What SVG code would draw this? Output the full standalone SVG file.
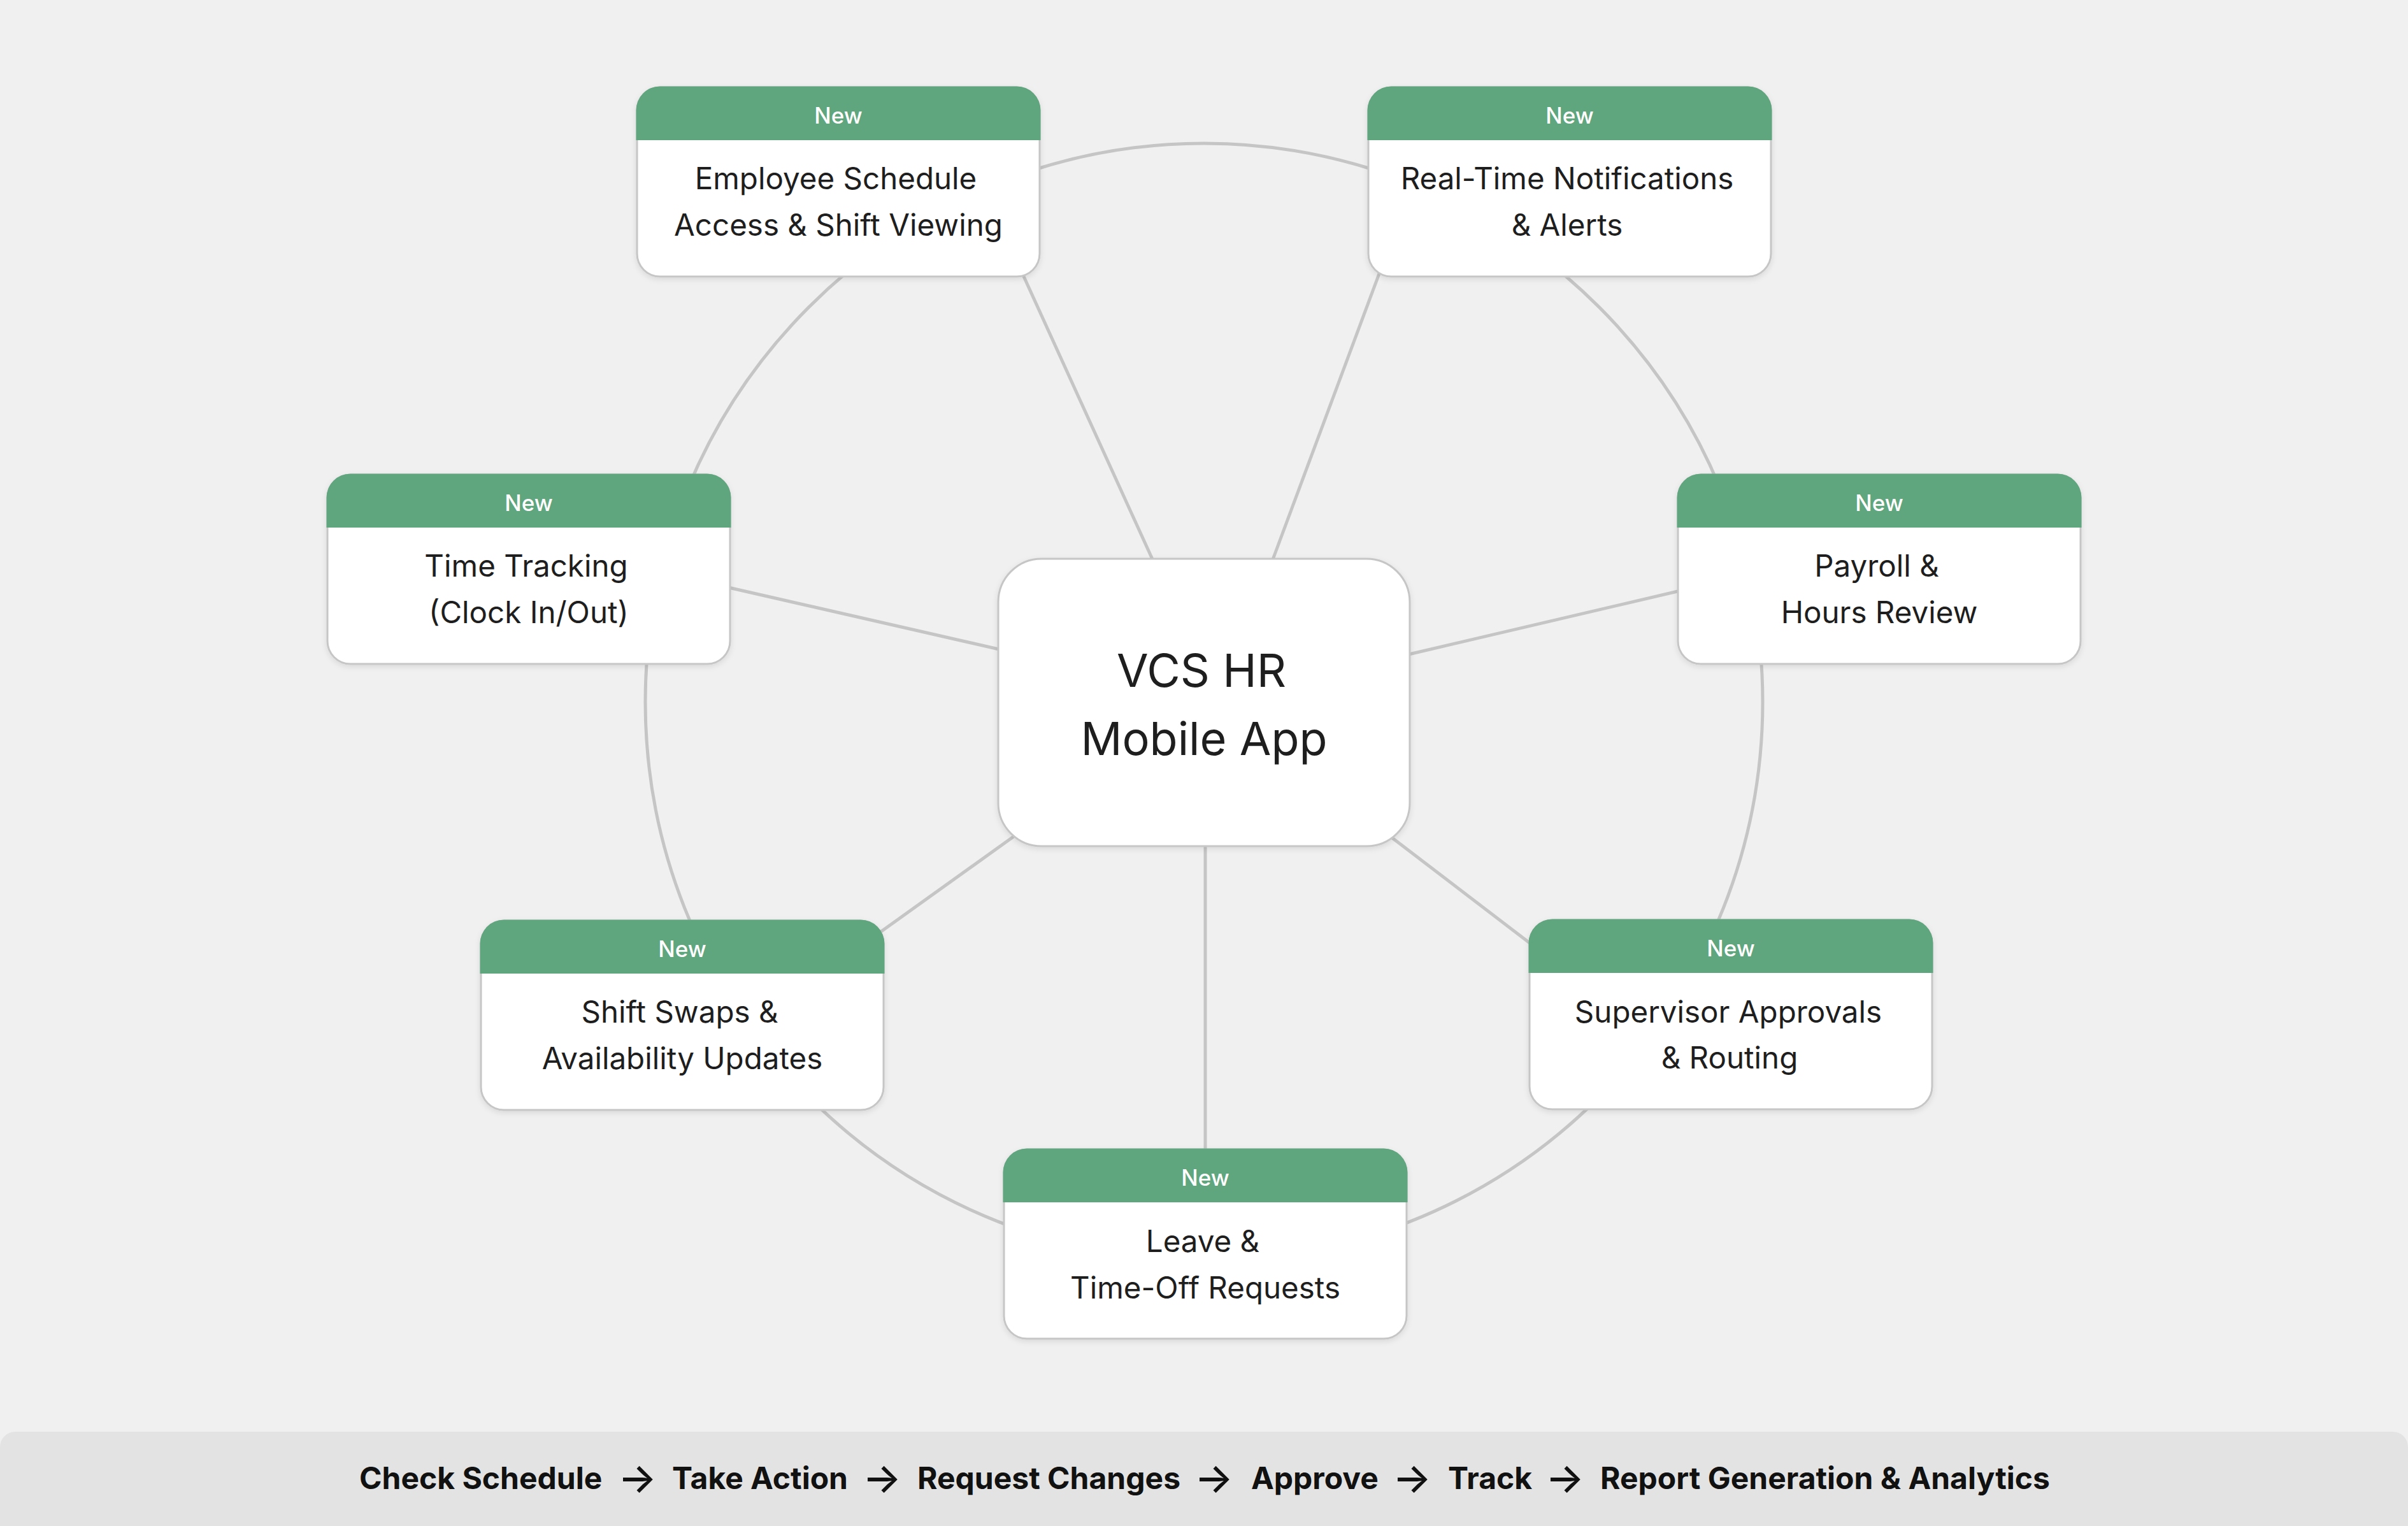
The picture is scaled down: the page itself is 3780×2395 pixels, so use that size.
<svg xmlns="http://www.w3.org/2000/svg" xmlns:xlink="http://www.w3.org/1999/xlink" width="3780" height="2395" viewBox="0 0 3780 2395">
<style>
.bg{fill:#f0f0f0}
.conn line,.conn circle{stroke:#c4c5c4;stroke-width:5;fill:none}
.card{fill:#fff;stroke:#c6c6c6;stroke-width:3}
.hdr{fill:#5fa57e}
.tag{font-family:Inter,"Noto Sans","Liberation Sans",sans-serif;font-size:35px;font-weight:500;fill:#fff;text-anchor:middle}
.lbl{font-family:Inter,"Noto Sans","Liberation Sans",sans-serif;font-size:47.5px;fill:#1e1e1e;text-anchor:middle}
.hub{font-family:Inter,"Noto Sans","Liberation Sans",sans-serif;font-size:72px;fill:#1e1e1e;text-anchor:middle}
.bar{fill:#e3e3e3}
.flow{font-family:Inter,"Noto Sans","Liberation Sans",sans-serif;font-size:48px;font-weight:700;fill:#111}
.arr{font-size:64px;font-weight:500}
</style>
<defs>
<filter id="sh" x="-10%" y="-10%" width="120%" height="130%">
<feDropShadow dx="0" dy="3" stdDeviation="4" flood-color="#000" flood-opacity="0.10"/>
</filter>
<rect id="cardShape" x="0" y="0" width="632" height="297" rx="36" ry="36"/>
<path id="hdrShape" d="M-1.5,83 V36 A37.5,37.5 0 0 1 36,-1.5 H596 A37.5,37.5 0 0 1 633.5,36 V83 Z"/>
</defs>
<rect class="bg" x="0" y="0" width="3780" height="2395"/>

<g id="connectors" class="conn">
<circle cx="1890" cy="1102" r="877"/>
<line x1="1821" y1="904" x2="1598" y2="414"/>
<line x1="1988" y1="905" x2="2173" y2="408"/>
<line x1="1590" y1="1024" x2="1126" y2="918"/>
<line x1="2190" y1="1032" x2="2655" y2="923"/>
<line x1="1605" y1="1303" x2="1365" y2="1475"/>
<line x1="2171" y1="1304" x2="2417" y2="1492"/>
<line x1="1892" y1="1300" x2="1892" y2="1830"/>
</g>

<g id="hub">
<rect x="1567" y="877" width="646" height="451" rx="68" ry="68" class="card" filter="url(#sh)"/>
<text class="hub" x="1886" y="1078">VCS HR</text>
<text class="hub" x="1890" y="1185">Mobile App</text>
</g>

<g id="node-schedule" transform="translate(1000,137)">
<use xlink:href="#cardShape" class="card" filter="url(#sh)"/>
<use xlink:href="#hdrShape" class="hdr"/>
<text class="tag" x="316" y="57">New</text>
<text class="lbl" x="312" y="160">Employee Schedule</text>
<text class="lbl" x="316" y="233">Access &amp; Shift Viewing</text>
</g>

<g id="node-notifications" transform="translate(2148,137)">
<use xlink:href="#cardShape" class="card" filter="url(#sh)"/>
<use xlink:href="#hdrShape" class="hdr"/>
<text class="tag" x="316" y="57">New</text>
<text class="lbl" x="312" y="160">Real-Time Notifications</text>
<text class="lbl" x="312" y="233">&amp; Alerts</text>
</g>

<g id="node-timetracking" transform="translate(514,745)">
<use xlink:href="#cardShape" class="card" filter="url(#sh)"/>
<use xlink:href="#hdrShape" class="hdr"/>
<text class="tag" x="316" y="57">New</text>
<text class="lbl" x="312" y="160">Time Tracking</text>
<text class="lbl" x="316" y="233">(Clock In/Out)</text>
</g>

<g id="node-payroll" transform="translate(2634,745)">
<use xlink:href="#cardShape" class="card" filter="url(#sh)"/>
<use xlink:href="#hdrShape" class="hdr"/>
<text class="tag" x="316" y="57">New</text>
<text class="lbl" x="312" y="160">Payroll &amp;</text>
<text class="lbl" x="316" y="233">Hours Review</text>
</g>

<g id="node-shiftswaps" transform="translate(755,1445)">
<use xlink:href="#cardShape" class="card" filter="url(#sh)"/>
<use xlink:href="#hdrShape" class="hdr"/>
<text class="tag" x="316" y="57">New</text>
<text class="lbl" x="312" y="160">Shift Swaps &amp;</text>
<text class="lbl" x="316" y="233">Availability Updates</text>
</g>

<g id="node-approvals" transform="translate(2401,1444)">
<use xlink:href="#cardShape" class="card" filter="url(#sh)"/>
<use xlink:href="#hdrShape" class="hdr"/>
<text class="tag" x="316" y="57">New</text>
<text class="lbl" x="312" y="161">Supervisor Approvals</text>
<text class="lbl" x="314" y="233">&amp; Routing</text>
</g>

<g id="node-leave" transform="translate(1576,1804)">
<use xlink:href="#cardShape" class="card" filter="url(#sh)"/>
<use xlink:href="#hdrShape" class="hdr"/>
<text class="tag" x="316" y="57">New</text>
<text class="lbl" x="312" y="161">Leave &amp;</text>
<text class="lbl" x="316" y="234">Time-Off Requests</text>
</g>

<g id="flow-bar">
<rect class="bar" x="0" y="2247" width="3780" height="190" rx="24" ry="24"/>
<text class="flow" y="2337"><tspan x="564">Check Schedule</tspan><tspan class="arr" x="970" y="2342">→</tspan><tspan x="1055" y="2337">Take Action</tspan><tspan class="arr" x="1354" y="2342">→</tspan><tspan x="1440" y="2337">Request Changes</tspan><tspan class="arr" x="1875" y="2342">→</tspan><tspan x="1964" y="2337">Approve</tspan><tspan class="arr" x="2186" y="2342">→</tspan><tspan x="2273" y="2337">Track</tspan><tspan class="arr" x="2426" y="2342">→</tspan><tspan x="2512" y="2337">Report Generation &amp; Analytics</tspan></text>
</g>
</svg>
